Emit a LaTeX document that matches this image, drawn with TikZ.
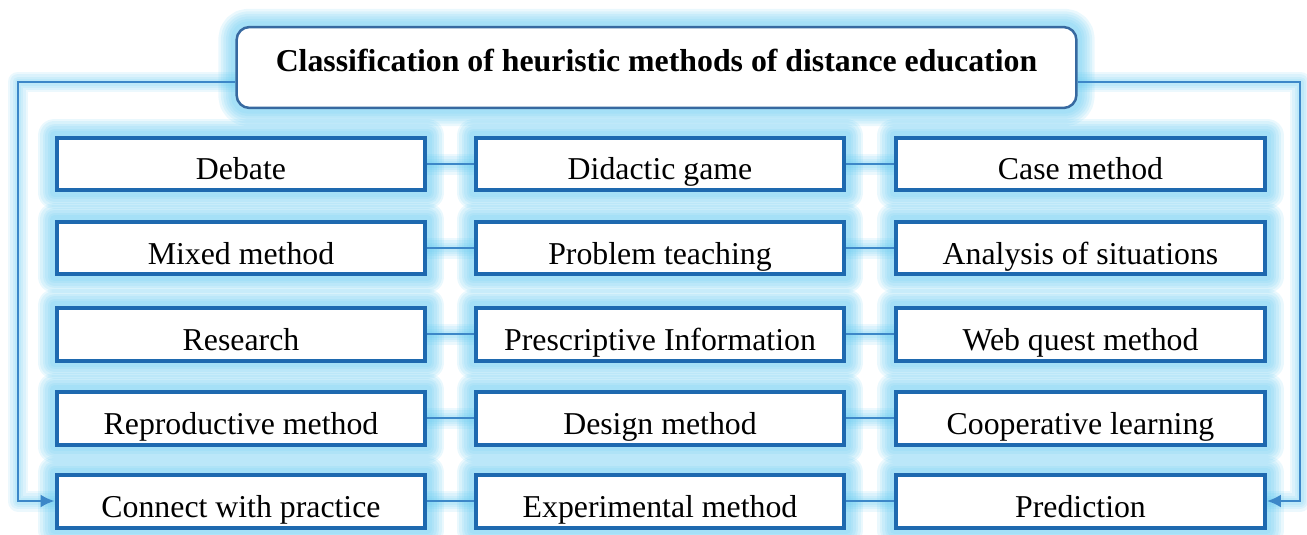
\documentclass[tikz,border=0pt]{standalone}
\usepackage{fontspec}
\setmainfont{Liberation Serif}
\usetikzlibrary{arrows.meta,backgrounds,calc}
\definecolor{glowc}{RGB}{95,200,240}
\definecolor{boxc}{RGB}{30,105,175}
\definecolor{linec}{RGB}{60,135,200}
\definecolor{titlec}{RGB}{55,105,160}
\begin{document}
\begin{tikzpicture}[x=0.02cm,y=-0.02cm,
  method/.style={draw=boxc, line width=0.08cm, fill=white,
    minimum width=7.38cm, minimum height=1.06cm, inner sep=0pt,
    text height=0.64cm, text depth=0pt, font=\fontsize{18.1}{20}\selectfont},
  titlebox/.style={draw=titlec, line width=0.05cm, fill=white, rounded corners=0.26cm,
    minimum width=16.8cm, minimum height=1.62cm, inner sep=0pt,
    text height=0.14cm, text depth=0pt, font=\fontsize{18.1}{20}\selectfont\bfseries},
  conn/.style={draw=linec, line width=0.045cm},
  arr/.style={conn, -{Latex[length=0.28cm,width=0.26cm]}},
  glowbase/.style={draw=glowc, line join=round, line cap=round}]
\useasboundingbox (0,0) rectangle (1307,534);

% title
\node[titlebox] (title) at (656.5,67.5) {Classification of heuristic methods of distance education};

% grid of methods
\node[method] (c11) at (241,164) {Debate};
\node[method] (c12) at (660,164) {Didactic game};
\node[method] (c13) at (1080.5,164) {Case method};
\node[method] (c21) at (241,248) {Mixed method};
\node[method] (c22) at (660,248) {Problem teaching};
\node[method] (c23) at (1080.5,248) {Analysis of situations};
\node[method] (c31) at (241,334) {Research};
\node[method] (c32) at (660,334) {Prescriptive Information};
\node[method] (c33) at (1080.5,334) {Web quest method};
\node[method] (c41) at (241,418) {Reproductive method};
\node[method] (c42) at (660,418) {Design method};
\node[method] (c43) at (1080.5,418) {Cooperative learning};
\node[method] (c51) at (241,501) {Connect with practice};
\node[method] (c52) at (660,501) {Experimental method};
\node[method] (c53) at (1080.5,501) {Prediction};

% connector anchor points
\coordinate (tl) at ($(title.west)+(0,14.5)$);
\coordinate (tr) at ($(title.east)+(0,14.5)$);
\coordinate (lc) at (18,501);
\coordinate (rc) at (1300,501);

% glow on background
\begin{scope}[on background layer]
  \foreach \w in {0.68,0.58,0.48,0.38,0.28,0.18}{
    \draw[glowbase, line width=\w cm, draw opacity=0.13, rounded corners=0.26cm] (title.north west) rectangle (title.south east);
    \foreach \r in {1,...,5}{
      \foreach \c in {1,2,3}{
        \draw[glowbase, line width=\w cm, draw opacity=0.13] (c\r\c.north west) rectangle (c\r\c.south east);
      }
    }
  }
  \foreach \w in {0.42,0.32,0.22,0.14}{
    \draw[glowbase, line width=\w cm, draw opacity=0.12] (tl) -| (lc) -- (c51.west);
    \draw[glowbase, line width=\w cm, draw opacity=0.12] (tr) -| (rc) -- (c53.east);
    \foreach \r in {1,...,5}{
      \draw[glowbase, line width=\w cm, draw opacity=0.12] (c\r1.east) -- (c\r2.west);
      \draw[glowbase, line width=\w cm, draw opacity=0.12] (c\r2.east) -- (c\r3.west);
    }
  }
\end{scope}

% connectors
\draw[arr] (tl) -| (lc) -- (c51.west);
\draw[arr] (tr) -| (rc) -- (c53.east);
\foreach \r in {1,...,5}{
  \draw[conn] (c\r1.east) -- (c\r2.west);
  \draw[conn] (c\r2.east) -- (c\r3.west);
}
\end{tikzpicture}
\end{document}
